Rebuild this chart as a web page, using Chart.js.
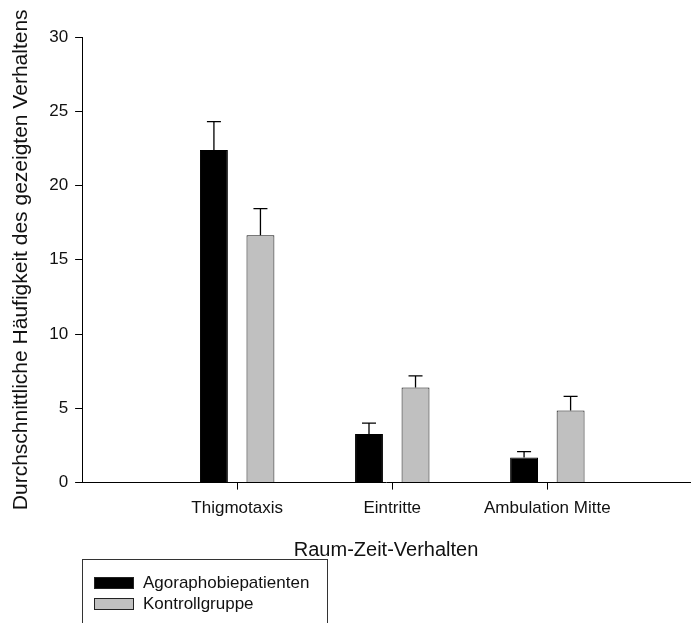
<!DOCTYPE html>
<html>
<head>
<meta charset="utf-8">
<script src="https://cdn.jsdelivr.net/npm/chart.js@4/dist/chart.umd.min.js"></script>
<style>
  html, body { margin: 0; padding: 0; background: #fff; }
  #wrap { width: 691px; height: 623px; }
</style>
</head>
<body>
<div id="wrap"><canvas id="chart" width="691" height="623"></canvas></div>
<script>
// data
const categories = ['Thigmotaxis', 'Eintritte', 'Ambulation Mitte'];
const agoraphobie = [22.4, 3.28, 1.69];
const agoraphobieErr = [1.9, 0.72, 0.4];
const kontrolle = [16.65, 6.4, 4.85];
const kontrolleErr = [1.8, 0.79, 0.95];
const yTicks = [0, 5, 10, 15, 20, 25, 30];

const FONT = "'Liberation Sans', Arial, sans-serif";

// error bars (upper only) on top of each bar
const errorBars = {
  id: 'errorBars',
  afterDatasetsDraw(chart){
    const ctx = chart.ctx;
    const y = chart.scales.y;
    ctx.save();
    ctx.strokeStyle = '#000';
    ctx.lineWidth = 1.3;
    chart.data.datasets.forEach((ds, di) => {
      const meta = chart.getDatasetMeta(di);
      meta.data.forEach((bar, i) => {
        const top = y.getPixelForValue(ds.data[i].y + ds.errors[i]);
        ctx.beginPath();
        ctx.moveTo(bar.x, bar.y);
        ctx.lineTo(bar.x, top);
        ctx.moveTo(bar.x - 7, top);
        ctx.lineTo(bar.x + 7, top);
        ctx.stroke();
      });
    });
    ctx.restore();
  }
};

// boxed legend below the axis title
const boxLegend = {
  id: 'boxLegend',
  afterDraw(chart){
    const ctx = chart.ctx;
    ctx.save();
    ctx.strokeStyle = '#333';
    ctx.lineWidth = 1;
    ctx.strokeRect(82.5, 559.5, 245, 80);
    ctx.font = '17px ' + FONT;
    ctx.textBaseline = 'middle';
    chart.data.datasets.forEach((ds, i) => {
      const yy = 577 + i * 21;
      ctx.fillStyle = ds.backgroundColor;
      ctx.fillRect(94, yy, 40, 12);
      ctx.strokeStyle = '#222';
      ctx.strokeRect(94.5, yy + 0.5, 39, 11);
      ctx.fillStyle = '#111';
      ctx.fillText(ds.label, 143, yy + 6);
    });
    ctx.restore();
  }
};

new Chart(document.getElementById('chart'), {
  type: 'bar',
  data: {
    datasets: [
      {
        label: 'Agoraphobiepatienten',
        data: agoraphobie.map((v, i) => ({ x: i + 1, y: v })),
        errors: agoraphobieErr,
        backgroundColor: '#000000',
        borderColor: '#000000',
        borderWidth: 1
      },
      {
        label: 'Kontrollgruppe',
        data: kontrolle.map((v, i) => ({ x: i + 1, y: v })),
        errors: kontrolleErr,
        backgroundColor: '#c0c0c0',
        borderColor: '#111111',
        borderWidth: 1
      }
    ]
  },
  options: {
    responsive: false,
    animation: false,
    categoryPercentage: 0.6,
    barPercentage: 0.6,
    layout: { padding: { left: 9, right: 1, top: 37, bottom: 61 } },
    plugins: { legend: { display: false }, tooltip: { enabled: false } },
    scales: {
      x: {
        type: 'linear',
        offset: false,
        min: 0,
        max: 3.92,
        afterBuildTicks: s => { s.ticks = categories.map((c, i) => ({ value: i + 1 })); },
        ticks: {
          color: '#111',
          font: { family: FONT, size: 17 },
          padding: 9,
          maxRotation: 0,
          autoSkip: false,
          callback: v => categories[v - 1] || ''
        },
        grid: { offset: false, drawOnChartArea: false, drawTicks: true, tickLength: 7, color: '#000' },
        border: { color: '#000', width: 1 },
        title: {
          display: true,
          text: 'Raum-Zeit-Verhalten',
          color: '#111',
          font: { family: FONT, size: 20 },
          padding: { top: 10, bottom: 0 }
        }
      },
      y: {
        min: 0,
        max: 30,
        afterBuildTicks: s => { s.ticks = yTicks.map(v => ({ value: v })); },
        ticks: {
          color: '#111',
          font: { family: FONT, size: 17 },
          padding: 7
        },
        grid: { drawOnChartArea: false, drawTicks: true, tickLength: 7, color: '#000' },
        border: { color: '#000', width: 1 },
        title: {
          display: true,
          text: 'Durchschnittliche Häufigkeit des gezeigten Verhaltens',
          color: '#111',
          font: { family: FONT, size: 21 },
          padding: { top: 0, bottom: 8 }
        }
      }
    }
  },
  plugins: [errorBars, boxLegend]
});
</script>
</body>
</html>
